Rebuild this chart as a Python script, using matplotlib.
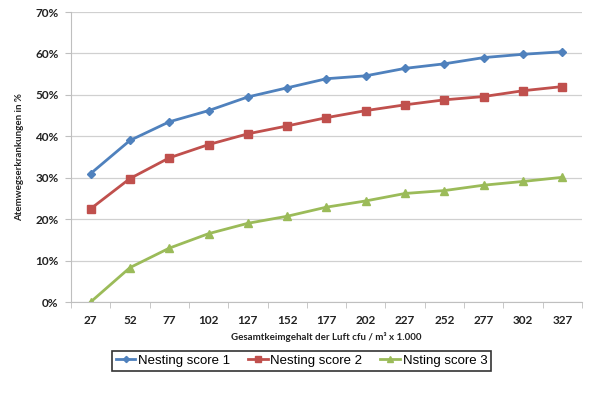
import numpy as np
import matplotlib
matplotlib.use('Agg')
import matplotlib.pyplot as plt
from matplotlib.ticker import FixedLocator, PercentFormatter

categories = ['27', '52', '77', '102', '127', '152', '177', '202', '227', '252', '277', '302', '327']
score_1 = [31.0, 39.0, 43.5, 46.2, 49.5, 51.7, 53.9, 54.6, 56.4, 57.5, 59.0, 59.8, 60.4]
score_2 = [22.5, 29.8, 34.8, 38.0, 40.6, 42.5, 44.5, 46.2, 47.6, 48.8, 49.6, 51.0, 52.0]
score_3 = [0.0, 8.3, 13.0, 16.5, 19.0, 20.7, 22.9, 24.4, 26.2, 26.9, 28.2, 29.1, 30.1]
labels = ['Nesting score 1', 'Nesting score 2', 'Nsting score 3']

tick_font = 'Lato'

fig = plt.figure(figsize=(6, 3.98), dpi=100)
ax = fig.add_axes([0.1183, 0.2412, 0.8517, 0.7286])

x = np.arange(len(categories))
ax.plot(x, score_1, color='#4F81BD', marker='D', markersize=4.5, lw=2, label=labels[0])
ax.plot(x, score_2, color='#C0504D', marker='s', markersize=6, lw=2, label=labels[1])
ax.plot(x, score_3, color='#9BBB59', marker='^', markersize=6, lw=2, label=labels[2])

ax.set_xlim(-0.5, len(categories) - 0.5)
ax.set_ylim(0, 70)
ax.set_yticks(np.arange(0, 71, 10))
ax.yaxis.set_major_formatter(PercentFormatter(decimals=0))
ax.set_xticks(x)
ax.set_xticklabels(categories)
ax.xaxis.set_minor_locator(FixedLocator(np.arange(-0.5, len(categories), 1)))
ax.tick_params(axis='x', which='major', length=0, pad=9)
ax.tick_params(axis='x', which='minor', length=4, color='#BFBFBF', direction='out')
ax.tick_params(axis='y', length=4, color='#BFBFBF', pad=5)
for lab in ax.get_xticklabels() + ax.get_yticklabels():
    lab.set_fontfamily(tick_font)
    lab.set_fontweight('bold')
    lab.set_fontsize(8.5)
    lab.set_color('#222222')

ax.grid(axis='y', color='#D0D0D0', lw=0.9)
ax.set_axisbelow(True)
for s in ['top', 'right']:
    ax.spines[s].set_visible(False)
for s in ['left', 'bottom']:
    ax.spines[s].set_color('#BFBFBF')

ax.set_xlabel('Gesamtkeimgehalt der Luft cfu / m³ x 1.000', fontfamily=tick_font,
              fontweight='bold', fontsize=7, labelpad=5, color='#222222')
ax.set_ylabel('Atemwegserkrankungen in %', fontfamily=tick_font,
              fontweight='bold', fontsize=7, labelpad=8, color='#222222')

leg = fig.legend(loc='center', bbox_to_anchor=(0.5025, 0.093), ncol=3,
                 prop={'family': 'Liberation Sans', 'size': 9.5},
                 frameon=True, fancybox=False, edgecolor='black',
                 handlelength=1.5, handletextpad=0.2, columnspacing=1.35,
                 borderpad=0.3, markerscale=0.7)
leg.get_frame().set_linewidth(1.2)

fig.savefig('out.png', dpi=100)
